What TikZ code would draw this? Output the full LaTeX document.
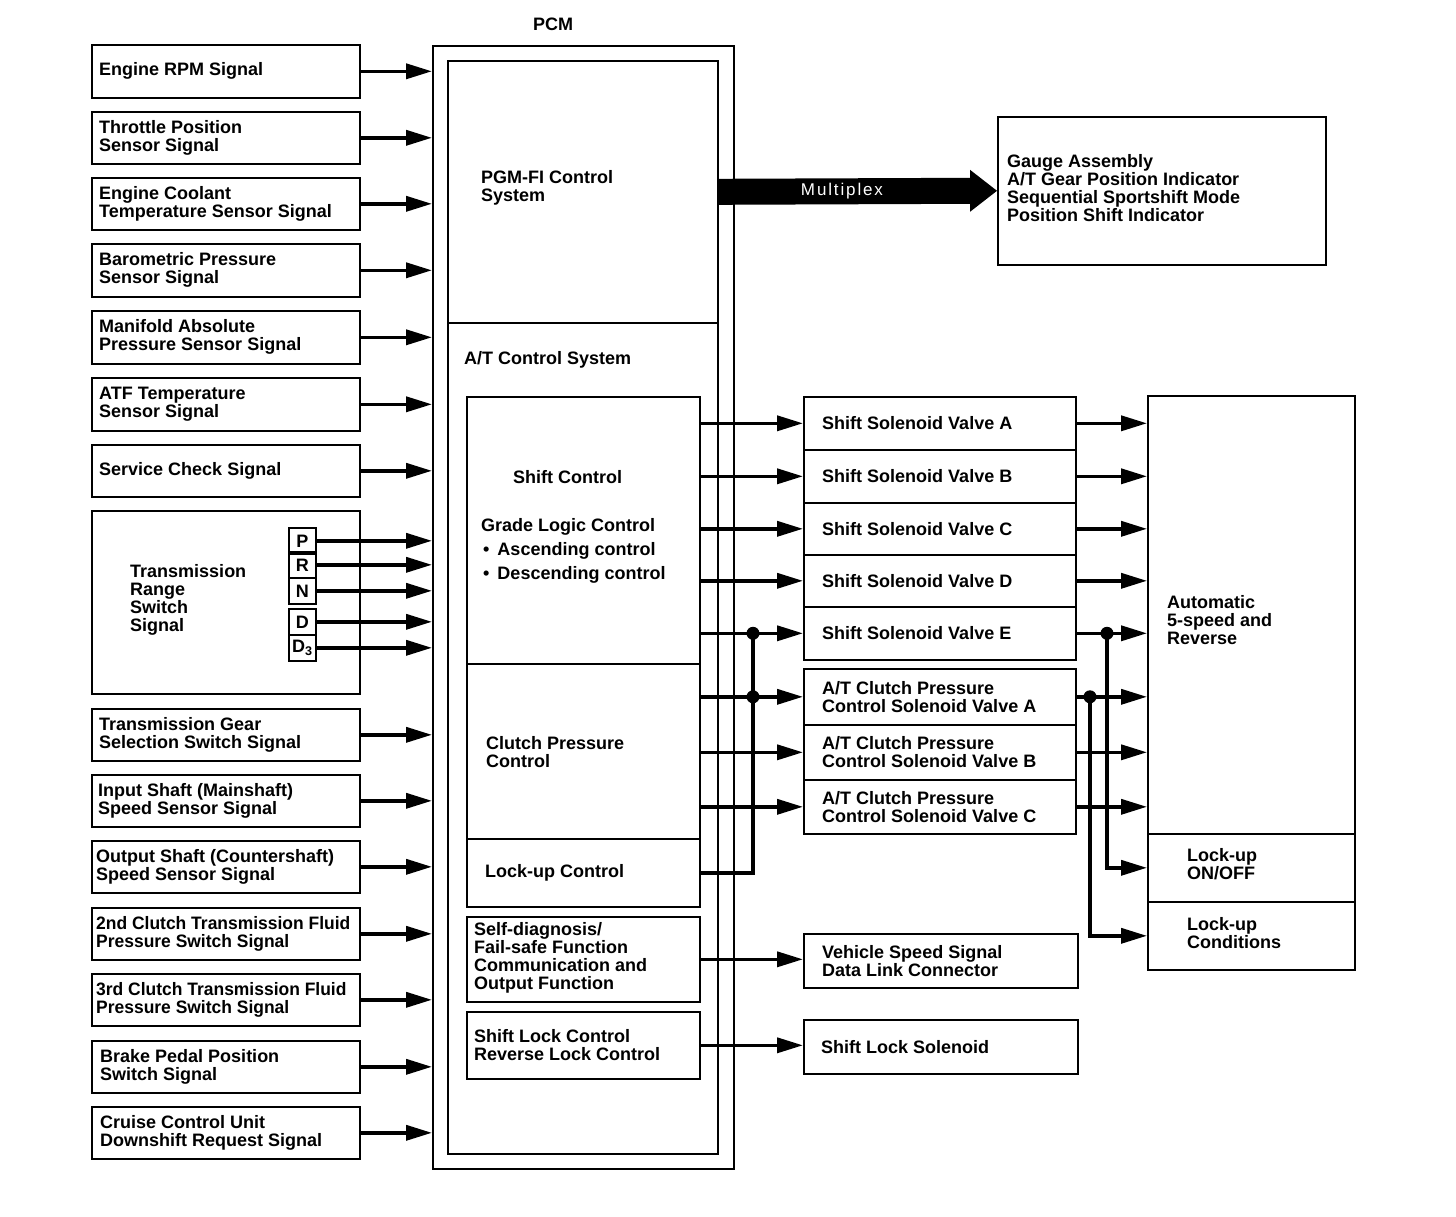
\documentclass[tikz,border=0pt]{standalone}
\usepackage{fontspec}
\setmainfont{Liberation Sans}
\newfontfamily\muxfont[LetterSpace=11]{Liberation Sans}
\usetikzlibrary{arrows.meta,calc}
\begin{document}
\begin{tikzpicture}[x=1pt,y=-1pt,
  box/.style={draw, line width=1.6pt, inner sep=0pt, anchor=north west},
  txt/.style={font=\bfseries\fontsize{18}{18}\selectfont, align=left, anchor=west, inner sep=0pt},
  arr/.style={line width=3.6pt, -{Triangle[length=26pt,width=15pt]}},
  wire/.style={line width=3.6pt},
  dot/.style={circle, fill=black, inner sep=0pt, minimum size=13pt}
]
\useasboundingbox (0,0) rectangle (1456,1216);

% PCM
\node[box, line width=1.8pt, minimum width=301pt, minimum height=1123pt] (pcm) at (432,45) {};
\node[txt, anchor=center] (pcmlabel) at (553,24) {PCM};
\node[box, minimum width=270pt, minimum height=262pt] (pgmfi) at (447,60) {};
\node[box, minimum width=270pt, minimum height=831pt] (atcs) at (447,322) {};
\node[txt] (pgmfit) at (481,188) {PGM-FI Control\\System};
\node[txt] (atcst) at (464,360) {A/T Control System};

\node[box, minimum width=233pt, minimum height=267pt] (shift) at (466,396) {};
\node[box, minimum width=233pt, minimum height=175pt] (clutch) at (466,663) {};
\node[box, minimum width=233pt, minimum height=68pt] (lockup) at (466,838) {};
\node[box, minimum width=233pt, minimum height=85pt] (selfdiag) at (466,916) {};
\node[box, minimum width=233pt, minimum height=67pt] (slock) at (466,1011) {};

\node[txt] (shiftt) at (513,477) {Shift Control};
\node[txt] (glct) at (481,527) {Grade Logic Control};
\node[txt] (asct) at (481,551) {\hspace*{2pt}•\hspace{8pt}Ascending control};
\node[txt] (dsct) at (481,575) {\hspace*{2pt}•\hspace{8pt}Descending control};
\node[txt] (clutcht) at (486,752) {Clutch Pressure\\Control};
\node[txt] (lockupt) at (485,873) {Lock-up Control};
\node[txt] (selfdiagt) at (474,958) {Self-diagnosis/\\Fail-safe Function\\Communication and\\Output Function};
\node[txt] (slockt) at (474,1045) {Shift Lock Control\\Reverse Lock Control};

% left inputs
\foreach \n/\y/\h/\dx/\sx/\t in {
  eng/44/53/8/1/{Engine RPM Signal},
  tps/111/52/8/1/{Throttle Position\\Sensor Signal},
  ect/177/52/8/1/{Engine Coolant\\Temperature Sensor Signal},
  baro/243/53/8/1/{Barometric Pressure\\Sensor Signal},
  map/310/53/8/1/{Manifold Absolute\\Pressure Sensor Signal},
  atf/377/53/8/1/{ATF Temperature\\Sensor Signal},
  svc/444/52/8/1/{Service Check Signal},
  tgs/708/52/8/1/{Transmission Gear\\Selection Switch Signal},
  iss/774/52/7/1/{Input Shaft (Mainshaft)\\Speed Sensor Signal},
  oss/840/52/5/1/{Output Shaft (Countershaft)\\Speed Sensor Signal},
  ctwo/907/52/5/0.97/{2nd Clutch Transmission Fluid\\Pressure Switch Signal},
  cthree/973/52/5/0.97/{3rd Clutch Transmission Fluid\\Pressure Switch Signal},
  bpp/1040/52/9/1/{Brake Pedal Position\\Switch Signal},
  ccu/1106/52/9/1/{Cruise Control Unit\\Downshift Request Signal}}
{
  \node[box, minimum width=268pt, minimum height=\h pt] (\n) at (91,\y) {};
  \node[txt, xscale=\sx, transform shape] (\n t) at ($(\n.west)+(\dx,0)$) {\t};
  \draw[arr] (\n.east) -- (\n.east -| pcm.west);
}

% transmission range switch
\node[box, minimum width=268pt, minimum height=183pt] (trs) at (91,510) {};
\node[txt] (trst) at (130,600) {Transmission\\Range\\Switch\\Signal};
\foreach \n/\y/\t in {P/527/P, R/551/R, N/577/N, D/608/D, Dthree/634/{D\textsubscript{3}}}
{
  \node[box, font=\bfseries\fontsize{18}{18}\selectfont, minimum width=27pt, minimum height=26pt] (\n) at (288,\y) {\t};
  \draw[arr] (\n.east) -- (\n.east -| pcm.west);
}

% gauge & multiplex
\node[box, minimum width=328pt, minimum height=148pt] (gauge) at (997,116) {};
\node[txt] (gauget) at (1007,188) {Gauge Assembly\\A/T Gear Position Indicator\\Sequential Sportshift Mode\\Position Shift Indicator};
\fill ($(pgmfi.east)+(0,-13)$) -- ($(gauge.west)+(-27,-13)$) -- ($(gauge.west)+(-27,-21)$) -- (gauge.west)
  -- ($(gauge.west)+(-27,21)$) -- ($(gauge.west)+(-27,13)$) -- ($(pgmfi.east)+(0,13)$) -- cycle;
\node[font=\muxfont\fontsize{17}{17}\selectfont, text=white, inner sep=0pt] (mux) at (842,191) {Multiplex};

% valves
\foreach \n/\y/\h/\t in {
  ssa/396/53/{Shift Solenoid Valve A},
  ssb/449/53/{Shift Solenoid Valve B},
  ssc/502/52/{Shift Solenoid Valve C},
  ssd/554/52/{Shift Solenoid Valve D},
  sse/606/53/{Shift Solenoid Valve E},
  cpa/668/56/{A/T Clutch Pressure\\Control Solenoid Valve A},
  cpb/724/55/{A/T Clutch Pressure\\Control Solenoid Valve B},
  cpc/779/54/{A/T Clutch Pressure\\Control Solenoid Valve C}}
{
  \node[box, minimum width=272pt, minimum height=\h pt] (\n) at (803,\y) {};
  \node[txt] (\n t) at ($(\n.west)+(19,0)$) {\t};
}
\node[box, minimum width=274pt, minimum height=54pt] (vss) at (803,933) {};
\node[txt] (vsst) at ($(vss.west)+(19,0)$) {Vehicle Speed Signal\\Data Link Connector};
\node[box, minimum width=274pt, minimum height=54pt] (sls) at (803,1019) {};
\node[txt] (slst) at ($(sls.west)+(18,0)$) {Shift Lock Solenoid};

% right boxes
\node[box, minimum width=207pt, minimum height=438pt] (auto) at (1147,395) {};
\node[txt] (autot) at (1167,620) {Automatic\\5-speed and\\Reverse};
\node[box, minimum width=207pt, minimum height=68pt] (lon) at (1147,833) {};
\node[txt] (lont) at (1187,864) {Lock-up\\ON/OFF};
\node[box, minimum width=207pt, minimum height=68pt] (lcond) at (1147,901) {};
\node[txt] (lcondt) at (1187,933) {Lock-up\\Conditions};

% connectors PCM -> valves
\foreach \v in {ssa,ssb,ssc,ssd,sse}
  \draw[arr] (\v.west -| shift.east) -- (\v.west);
\foreach \v in {cpa,cpb,cpc}
  \draw[arr] (\v.west -| clutch.east) -- (\v.west);
\draw[arr] (selfdiag.east) -- (selfdiag.east -| vss.west);
\draw[arr] (slock.east) -- (slock.east -| sls.west);

% valves -> transmission
\foreach \v in {ssa,ssb,ssc,ssd,sse,cpa,cpb,cpc}
  \draw[arr] (\v.east) -- (\v.east -| auto.west);

% junctions
\node[dot] (dE) at (753,0 |- sse.west) {};
\node[dot] (dA) at (753,0 |- cpa.west) {};
\draw[wire] (lockup.east) -| (dE.center);
\node[dot] (rE) at (1107,0 |- sse.east) {};
\node[dot] (rA) at (1090,0 |- cpa.east) {};
\draw[arr] (rE.center) |- (lon.west);
\draw[arr] (rA.center) |- (lcond.west);
\end{tikzpicture}
\end{document}
